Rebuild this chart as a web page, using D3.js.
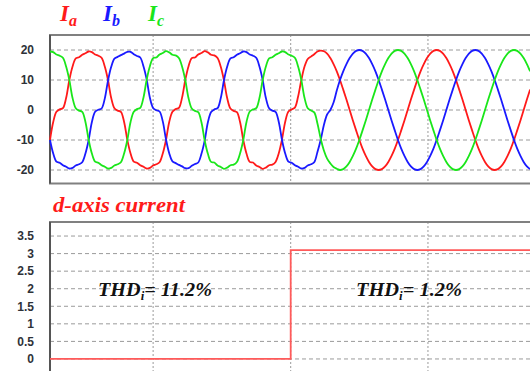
<!DOCTYPE html>
<html>
<head>
<meta charset="utf-8">
<script src="https://cdn.jsdelivr.net/npm/d3@7"></script>
<style>
  body { margin: 0; background: #fff; }
  svg { display: block; overflow: hidden; }
  .tick-label { font: bold 12px "Liberation Sans", Arial, sans-serif; fill: #2e3238; }
  .serif { font-family: "Liberation Serif", "Times New Roman", serif; font-weight: bold; font-style: italic; }
</style>
</head>
<body>
<div id="chart"></div>
<script>
(function() {
  // sample time in ms, one sample every 1 ms
  const time = d3.range(150);

  // phase currents (A)
  const currentA = [
    -10.0, -4.0, -0.6,
    0.2, 0.6, 4.0, 10.0, 14.5, 17.2, 17.6, 18.4, 18.9, 19.5, 19.3, 18.5, 18.1, 17.4, 14.5, 10.0, 4.0, 0.6,
    -0.2, -0.6, -4.0, -10.0, -14.5, -17.2, -17.6, -18.4, -18.9, -19.5, -19.3, -18.5, -18.1, -17.4, -14.5, -10.0, -4.0, -0.6,
    0.3, 0.7, 4.2, 10.1, 14.6, 17.3, 17.5, 18.5, 19.0, 19.6, 19.2, 18.4, 18.2, 17.3, 14.4, 9.8, 3.9, 0.5,
    -0.3, -0.7, -4.1, -10.1, -14.6, -17.3, -17.5, -18.5, -19.0, -19.6, -19.2, -18.4, -18.2, -17.3, -14.4, -9.8, -3.9, -0.5,
    0.2, 0.8, 4.5, 10.0, 14.5, 17.0, 17.8, 18.6, 19.5, 19.8, 19.6, 18.8, 17.3, 15.3, 12.9, 10.0, 6.8, 3.5,
    0, -3.5, -6.8, -10.0, -12.9, -15.3, -17.3, -18.8, -19.7, -20.0, -19.7, -18.8, -17.3, -15.3, -12.9, -10.0, -6.8, -3.5,
    0, 3.5, 6.8, 10.0, 12.9, 15.3, 17.3, 18.8, 19.7, 20.0, 19.7, 18.8, 17.3, 15.3, 12.9, 10.0, 6.8, 3.5,
    0, -3.5, -6.8, -10.0, -12.9, -15.3, -17.3, -18.8, -19.7, -20.0, -19.7, -18.8, -17.3, -15.3, -12.9, -10.0, -6.8, -3.5,
    0, 3.5, 6.8
  ];

  const currentB = [
    -10.0, -14.5, -17.2, -17.6, -18.4, -18.9, -19.5, -19.3, -18.5, -18.1, -17.4, -14.5, -10.0, -4.0, -0.6,
    0.1, 0.5, 3.8, 9.8, 14.4, 17.1, 17.7, 18.3, 18.8, 19.4, 19.4, 18.6, 18.0, 17.5, 14.6, 10.2, 4.1, 0.7,
    -0.1, -0.5, -3.8, -9.8, -14.4, -17.1, -17.7, -18.3, -18.8, -19.4, -19.4, -18.6, -18.0, -17.5, -14.6, -10.2, -4.1, -0.7,
    0.2, 0.6, 4.0, 10.0, 14.5, 17.2, 17.6, 18.4, 18.9, 19.5, 19.3, 18.5, 18.1, 17.4, 14.5, 10.0, 4.0, 0.6,
    -0.2, -0.6, -4.0, -10.0, -14.5, -17.2, -17.6, -18.4, -18.9, -19.5, -19.3, -18.5, -18.1, -17.4,
    -14.0, -10.0, -5.0, -1.5, 0.0, 2.5, 6.5,
    10.0, 12.9, 15.3, 17.3, 18.8, 19.7, 20.0, 19.7, 18.8, 17.3, 15.3, 12.9, 10.0, 6.8, 3.5,
    0, -3.5, -6.8, -10.0, -12.9, -15.3, -17.3, -18.8, -19.7, -20.0, -19.7, -18.8, -17.3, -15.3, -12.9, -10.0, -6.8, -3.5,
    0, 3.5, 6.8, 10.0, 12.9, 15.3, 17.3, 18.8, 19.7, 20.0, 19.7, 18.8, 17.3, 15.3, 12.9, 10.0, 6.8, 3.5,
    0, -3.5, -6.8, -10.0, -12.9, -15.3, -17.3, -18.8, -19.7
  ];

  const currentC = [
    19.5, 19.3, 18.5, 18.1, 17.4, 14.5, 10.0, 4.0, 0.6,
    -0.2, -0.6, -4.0, -10.0, -14.5, -17.2, -17.6, -18.4, -18.9, -19.5, -19.3, -18.5, -18.1, -17.4, -14.5, -10.0, -4.0, -0.6,
    0.3, 0.7, 4.1, 10.1, 14.6, 17.3, 17.5, 18.5, 19.0, 19.6, 19.2, 18.4, 18.2, 17.3, 14.4, 9.9, 3.9, 0.5,
    -0.3, -0.7, -4.1, -10.1, -14.6, -17.3, -17.5, -18.5, -19.0, -19.6, -19.2, -18.4, -18.2, -17.3, -14.4, -9.9, -3.9, -0.5,
    0.2, 0.6, 4.0, 10.0, 14.5, 17.2, 17.6, 18.4, 18.9, 19.5, 19.3, 18.5, 18.1, 17.4, 14.5, 10.0, 4.0, 0.6,
    -0.2, -0.8, -4.5, -9.5, -13.5, -16.2, -17.8, -19.0, -19.6, -20.0, -19.7, -18.8, -17.3, -15.3, -12.9, -10.0, -6.8, -3.5,
    0, 3.5, 6.8, 10.0, 12.9, 15.3, 17.3, 18.8, 19.7, 20.0, 19.7, 18.8, 17.3, 15.3, 12.9, 10.0, 6.8, 3.5,
    0, -3.5, -6.8, -10.0, -12.9, -15.3, -17.3, -18.8, -19.7, -20.0, -19.7, -18.8, -17.3, -15.3, -12.9, -10.0, -6.8, -3.5,
    0, 3.5, 6.8, 10.0, 12.9, 15.3, 17.3, 18.8, 19.7, 20.0, 19.7, 18.8, 17.3, 15.3, 12.9
  ];

  // d-axis current reference: step at the middle gridline
  const dTime = [0, 74.7, 150];
  const dValue = [0, 3.1, 3.1];

  const topTicks = [-20, -10, 0, 10, 20];
  const bottomTicks = [0, 0.5, 1, 1.5, 2, 2.5, 3, 3.5];
  const gridTimes = [32, 74.7, 117.3];

  const phases = [
    { name: 'a', values: currentA, color: '#ff1a1a' },
    { name: 'b', values: currentB, color: '#1a1aff' },
    { name: 'c', values: currentC, color: '#1ae61a' }
  ];

  const width = 530, height = 371;
  const svg = d3.select('#chart')
    .append('svg')
      .attr('width', width)
      .attr('height', height);

  const x = d3.scaleLinear().domain([0, 150]).range([50, 50 + 150 * 3.2222]);
  const yTop = d3.scaleLinear().domain([-24.5, 25]).range([183.5, 35]);
  const yBot = d3.scaleLinear().domain([-0.4, 3.9]).range([373, 222]);

  function panel(y, ticks, fmt) {
    const g = svg.append('g');
    const [y0, y1] = y.range();

    g.selectAll('.hgrid')
      .data(ticks)
      .enter().append('line')
      .attr('x1', 50).attr('x2', width)
      .attr('y1', d => y(d)).attr('y2', d => y(d))
      .attr('stroke', '#9a9a9a')
      .attr('stroke-dasharray', '4,3');

    g.selectAll('.vgrid')
      .data(gridTimes)
      .enter().append('line')
      .attr('x1', d => x(d)).attr('x2', d => x(d))
      .attr('y1', y1).attr('y2', y0)
      .attr('stroke', '#9a9a9a')
      .attr('stroke-dasharray', '2,2');

    g.selectAll('.tick-label')
      .data(ticks)
      .enter().append('text')
      .attr('class', 'tick-label')
      .attr('x', 34)
      .attr('y', d => y(d))
      .attr('dy', '0.36em')
      .attr('text-anchor', 'end')
      .text(fmt);

    // frame
    g.append('line')
      .attr('x1', 49).attr('x2', width)
      .attr('y1', y1).attr('y2', y1)
      .attr('stroke', '#808080').attr('stroke-width', 2);
    g.append('line')
      .attr('x1', 49).attr('x2', width)
      .attr('y1', y0).attr('y2', y0)
      .attr('stroke', '#808080').attr('stroke-width', 2);
    g.append('line')
      .attr('x1', 50).attr('x2', 50)
      .attr('y1', y1).attr('y2', y0)
      .attr('stroke', '#555').attr('stroke-width', 2);
    return g;
  }

  const topPanel = panel(yTop, topTicks, d => d);
  const botPanel = panel(yBot, bottomTicks, d => d);

  const line = d3.line()
    .x((d, i) => x(time[i]))
    .y(d => yTop(d))
    .curve(d3.curveCatmullRom.alpha(0.5));

  topPanel.selectAll('.phase')
    .data(phases)
    .enter().append('path')
    .attr('class', 'phase')
    .attr('d', d => line(d.values))
    .attr('fill', 'none')
    .attr('stroke', d => d.color)
    .attr('stroke-width', 1.8)
    .attr('stroke-linejoin', 'round');

  const stepLine = d3.line()
    .x((d, i) => x(dTime[i]))
    .y(d => yBot(d))
    .curve(d3.curveStepAfter);

  botPanel.append('path')
    .attr('d', stepLine(dValue))
    .attr('fill', 'none')
    .attr('stroke', '#ff5a5a')
    .attr('stroke-width', 1.8);

  // legend  I_a  I_b  I_c
  const legendX = [60, 103, 148];
  phases.forEach((p, i) => {
    const t = svg.append('text')
      .attr('class', 'serif')
      .attr('x', legendX[i])
      .attr('y', 21)
      .attr('fill', p.color)
      .style('font-size', '23px');
    t.append('tspan').text('I');
    t.append('tspan').attr('dy', 5).style('font-size', '16px').text(p.name);
  });

  svg.append('text')
    .attr('class', 'serif')
    .attr('x', 53)
    .attr('y', 212)
    .attr('fill', '#ff1a1a')
    .attr('textLength', 132)
    .attr('lengthAdjust', 'spacingAndGlyphs')
    .style('font-size', '21px')
    .text('d-axis current');

  const thdLabels = [
    { x0: 98, len: 114, text: '= 11.2%' },
    { x0: 356, len: 106, text: '= 1.2%' }
  ];
  thdLabels.forEach(d => {
    const t = svg.append('text')
      .attr('class', 'serif')
      .attr('x', d.x0)
      .attr('y', 296)
      .attr('fill', '#111')
      .attr('textLength', d.len)
      .attr('lengthAdjust', 'spacingAndGlyphs')
      .style('font-size', '19px');
    t.append('tspan').text('THD');
    t.append('tspan').attr('dy', 4).style('font-size', '12px').text('i');
    t.append('tspan').attr('dy', -4).text(d.text);
  });
})();
</script>
</body>
</html>
